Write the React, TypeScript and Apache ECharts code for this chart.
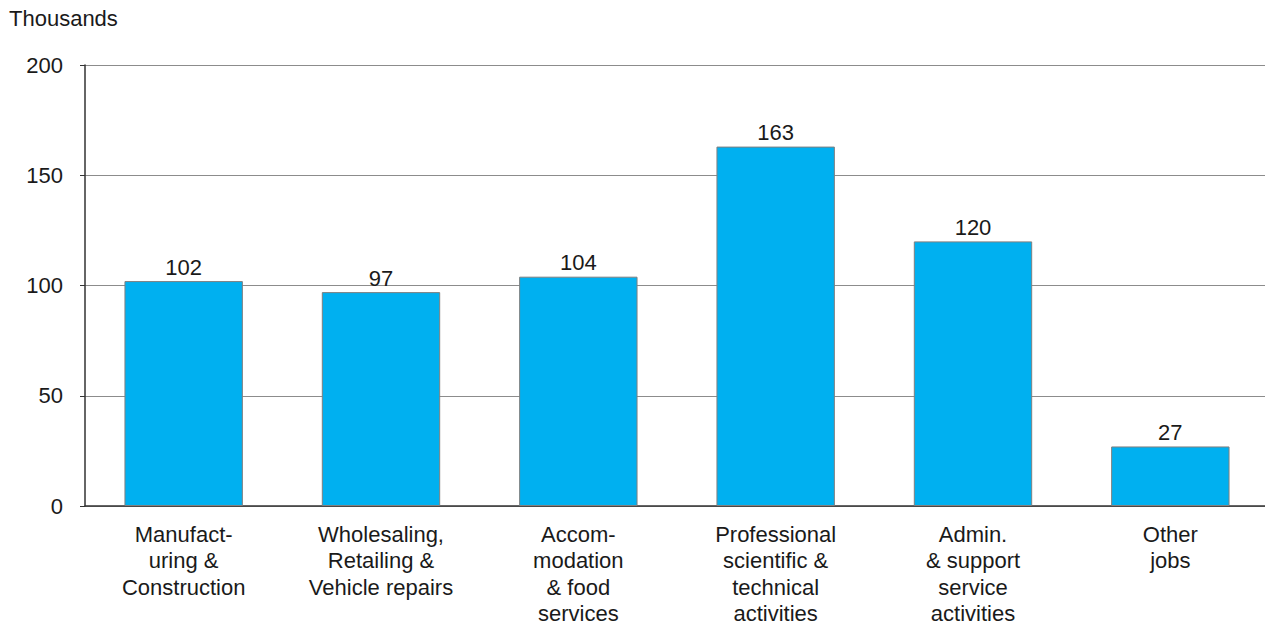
import React, { useEffect, useRef } from "react";
import * as echarts from "echarts";

const categories = [
  "Manufact-\nuring &\nConstruction",
  "Wholesaling,\nRetailing &\nVehicle repairs",
  "Accom-\nmodation\n& food\nservices",
  "Professional\nscientific &\ntechnical\nactivities",
  "Admin.\n& support\nservice\nactivities",
  "Other\njobs",
];
const values = [102, 97, 104, 163, 120, 27];
const yTicks = { min: 0, max: 200, interval: 50 };
const unitLabel = "Thousands";

const FONT = "'Liberation Sans', Arial, sans-serif";

export default function App() {
  const ref = useRef<HTMLDivElement>(null);
  useEffect(() => {
    if (!ref.current) return;
    const chart = echarts.init(ref.current, undefined, { renderer: "svg" });
    chart.setOption({
      animation: false,
      backgroundColor: "#ffffff",
      textStyle: { fontFamily: FONT },
      grid: {
        left: 85,
        width: 1184,
        top: 65,
        bottom: 121,
        containLabel: false,
        outerBoundsMode: "none",
      },
      graphic: [
        {
          type: "text",
          left: 9,
          top: 7,
          style: { text: unitLabel, fontSize: 22, fontFamily: FONT, fill: "#1a1a1a" },
        },
      ],
      xAxis: {
        type: "category",
        data: categories,
        axisLine: { lineStyle: { color: "#333333", width: 1.5 } },
        axisTick: { show: false },
        axisLabel: {
          interval: 0,
          fontSize: 22,
          lineHeight: 26.5,
          color: "#1a1a1a",
          fontFamily: FONT,
          margin: 15,
        },
      },
      yAxis: {
        type: "value",
        min: yTicks.min,
        max: yTicks.max,
        interval: yTicks.interval,
        axisLine: { show: true, lineStyle: { color: "#333333", width: 1.5 } },
        axisTick: { show: true, length: 5, lineStyle: { color: "#333333" } },
        axisLabel: { fontSize: 22, color: "#1a1a1a", fontFamily: FONT, margin: 22 },
        splitLine: { lineStyle: { color: "#8c8c8c", width: 1 } },
      },
      series: [
        {
          type: "bar",
          data: values,
          barWidth: "60%",
          itemStyle: { color: "#00B0F0", borderColor: "#7f7f7f", borderWidth: 1 },
          label: {
            show: true,
            position: "top",
            distance: 3,
            fontSize: 22,
            color: "#1a1a1a",
            fontFamily: FONT,
          },
        },
      ],
    });
    return () => chart.dispose();
  }, []);
  return (
    <div
      ref={ref}
      style={{ position: "absolute", left: 0, top: 0, width: 1265, height: 627 }}
    />
  );
}
